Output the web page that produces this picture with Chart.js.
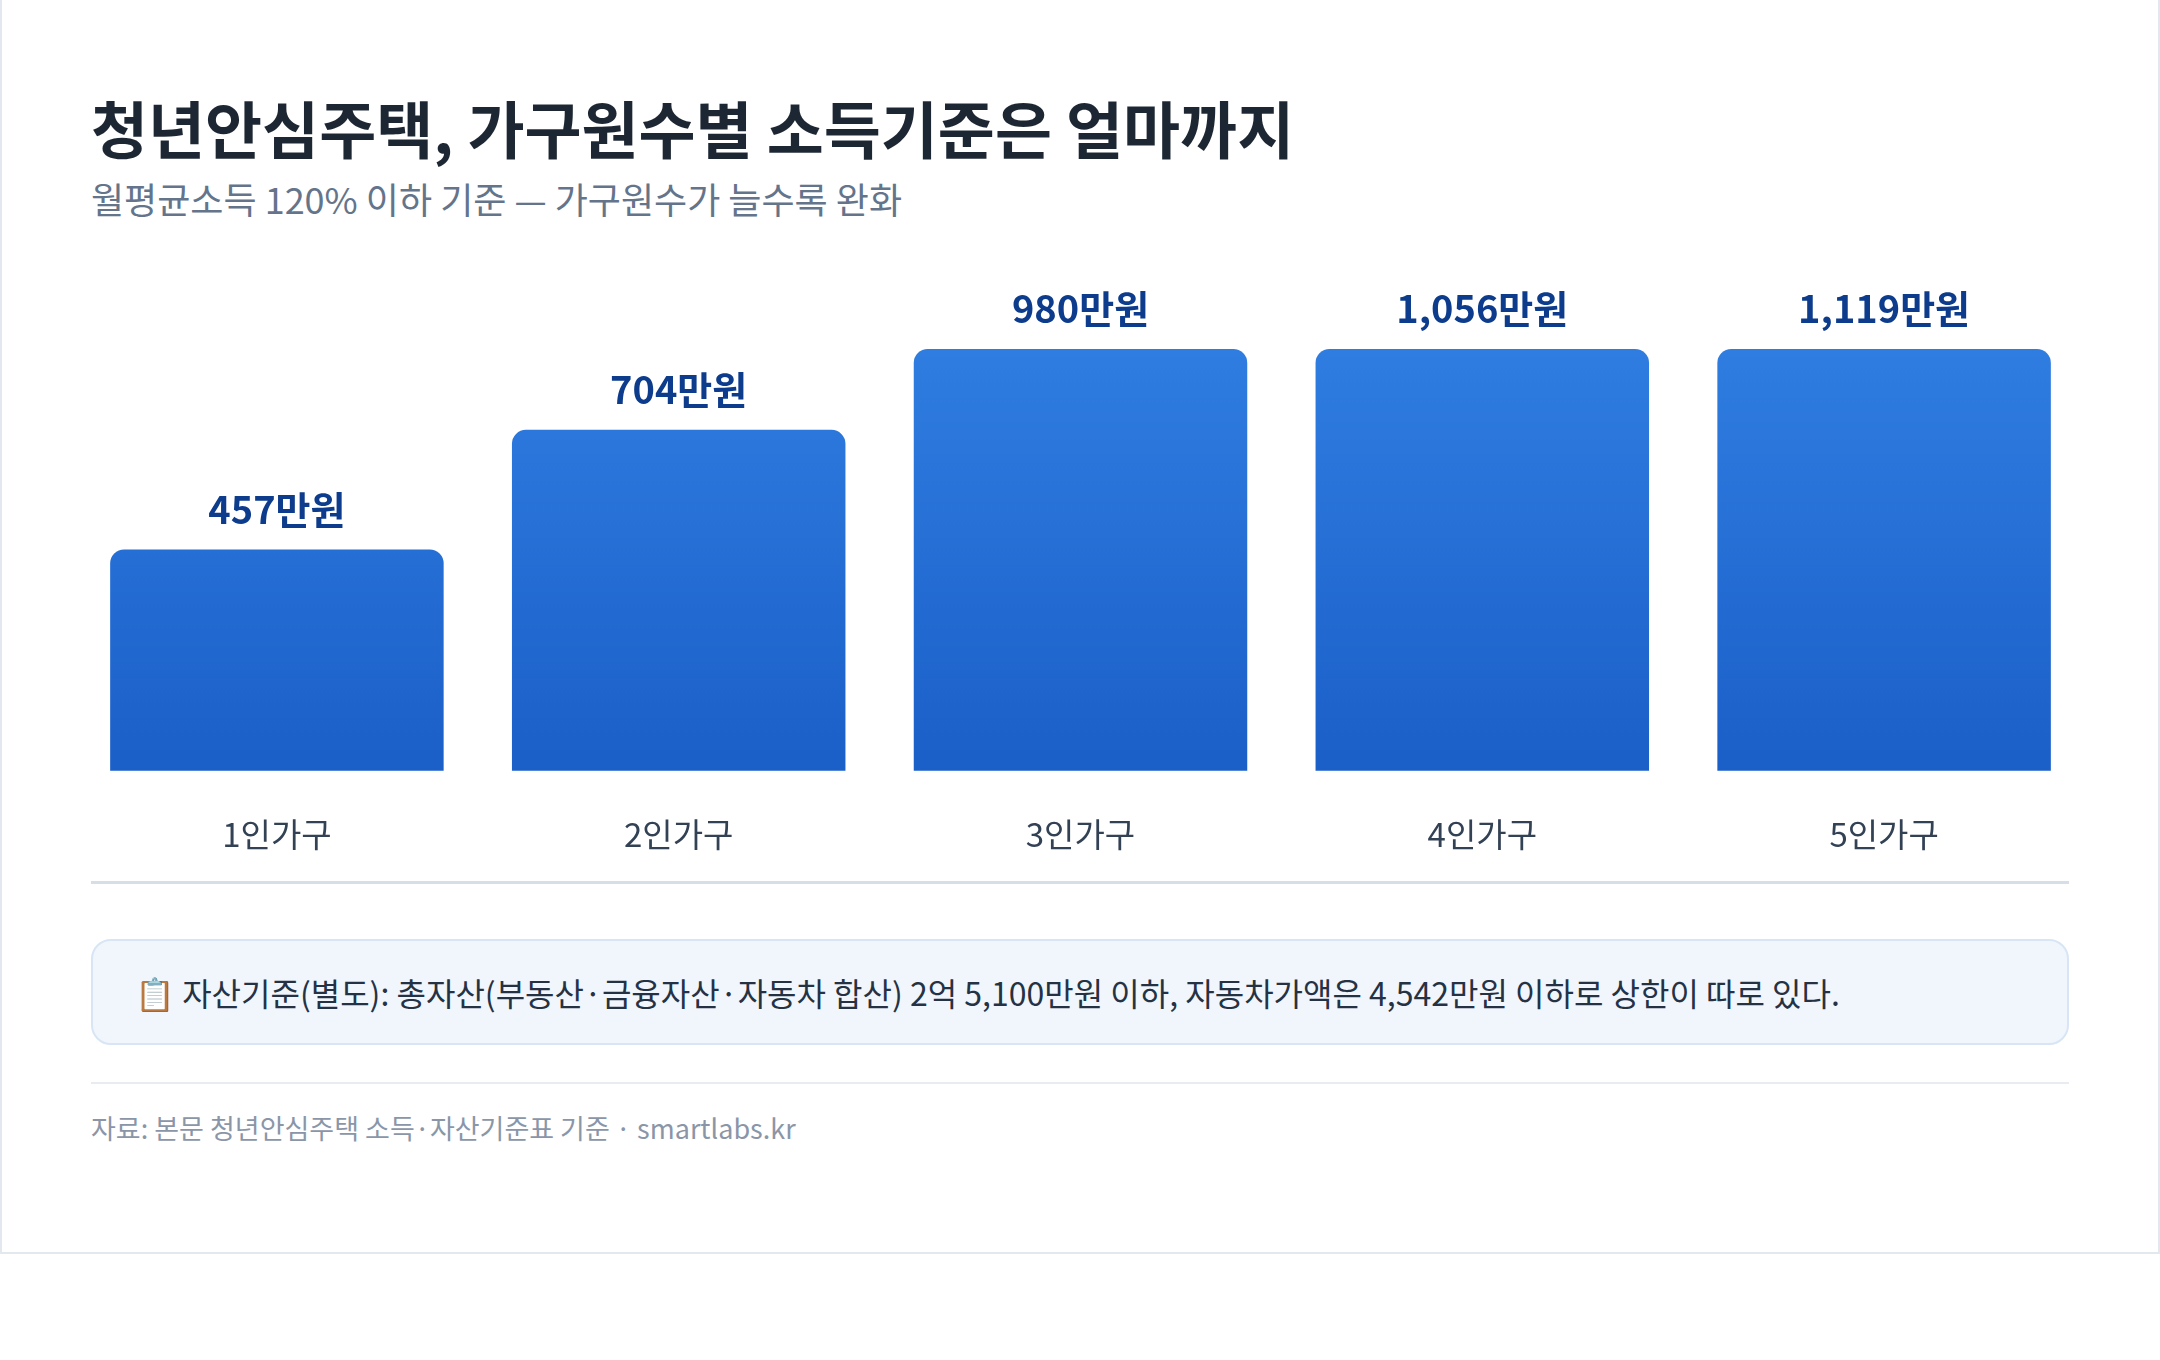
<!DOCTYPE html>
<html><head><meta charset="utf-8">
<script src="https://cdn.jsdelivr.net/npm/chart.js@4"></script>
<style>
html,body{margin:0;padding:0;background:#fff;width:2160px;height:1360px;overflow:hidden;font-family:"Noto Sans CJK KR","Noto Sans",sans-serif;}
#card{position:absolute;left:0;top:0;width:2156px;height:1252px;border:2px solid #e3e8ee;border-top:none;}
.t{position:absolute;left:91px;white-space:nowrap;}
#title{top:82px;font-size:62px;font-weight:700;color:#1d2733;letter-spacing:0px;}
#sub{top:172px;font-size:36px;color:#64748b;}
#cw{position:absolute;left:76px;top:275px;width:2009px;height:605px;}
#axis{position:absolute;left:91px;top:881px;width:1978px;height:3px;background:#d6dee8;}
#note{position:absolute;left:91px;top:939px;width:1974px;height:102px;background:#f1f6fd;border:2px solid #d8e5f5;border-radius:20px;box-sizing:content-box;}
#note span{position:absolute;left:42px;top:0;line-height:102px;font-size:32px;color:#253244;white-space:nowrap;}
#sep{position:absolute;left:91px;top:1082px;width:1978px;height:2px;background:#e8ecf1;}
#foot{top:1108px;font-size:27px;color:#8a96a8;}
</style></head><body>
<div id="card"></div>
<div class="t" id="title">청년안심주택, 가구원수별 소득기준은 얼마까지</div>
<div class="t" id="sub">월평균소득 120% 이하 기준 — 가구원수가 늘수록 완화</div>
<div id="cw"><canvas id="c"></canvas></div>
<div id="axis"></div>
<div id="note"><span>📋 자산기준(별도): 총자산(부동산·금융자산·자동차 합산) 2억 5,100만원 이하, 자동차가액은 4,542만원 이하로 상한이 따로 있다.</span></div>
<div id="sep"></div>
<div class="t" id="foot">자료: 본문 청년안심주택 소득·자산기준표 기준 · smartlabs.kr</div>
<script>
const categories = ["1인가구","2인가구","3인가구","4인가구","5인가구"];
const incomeValues = [457, 704, 980, 1056, 1119];
const valueLabels = ["457만원","704만원","980만원","1,056만원","1,119만원"];
const axisMin = -20, axisMax = 871;

const labelPlugin = {
  id:'vlabels',
  afterDatasetsDraw(chart){
    const {ctx, chartArea} = chart;
    const meta = chart.getDatasetMeta(0);
    ctx.save();
    ctx.font = '700 38px "Noto Sans CJK KR"';
    ctx.fillStyle = '#0d3c8c';
    ctx.textAlign = 'center';
    ctx.textBaseline = 'middle';
    meta.data.forEach((bar,i)=>{
      const y = Math.max(bar.y, chartArea.top);
      ctx.fillText(valueLabels[i], bar.x, y - 40);
    });
    ctx.restore();
  }
};

new Chart(document.getElementById('c'), {
  type:'bar',
  data:{
    labels:categories,
    datasets:[{
      data:incomeValues.map(v=>Math.min(v, axisMax)),
      backgroundColor(ctx){
        const ca = ctx.chart.chartArea;
        if(!ca) return '#2a72da';
        const g = ctx.chart.ctx.createLinearGradient(0, ca.top, 0, ca.bottom);
        g.addColorStop(0,'#2f7de1');
        g.addColorStop(1,'#1a5ec7');
        return g;
      },
      borderRadius:{topLeft:14, topRight:14, bottomLeft:0, bottomRight:0},
      borderSkipped:'bottom',
      barPercentage:0.83,
      categoryPercentage:1
    }]
  },
  options:{
    responsive:true, maintainAspectRatio:false, animation:false,
    layout:{padding:{top:74, bottom:0}},
    plugins:{legend:{display:false}, tooltip:{enabled:false}},
    scales:{
      x:{grid:{display:false}, border:{display:false},
         ticks:{color:'#334155', padding:26, font:{family:'"Noto Sans CJK KR"', size:33}}},
      y:{display:false, min:axisMin, max:axisMax}
    }
  },
  plugins:[labelPlugin]
});
</script>
</body></html>
